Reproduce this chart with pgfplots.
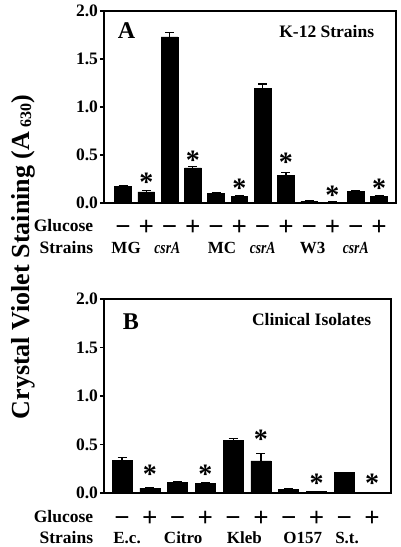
\documentclass[border=0pt]{standalone}
\usepackage{fontspec}
\setmainfont{Liberation Serif}
\usepackage{graphicx}
\usepackage{pgfplots}
\pgfplotsset{compat=1.18}
\usepackage{pgfplotstable}

\pgfplotstableread{
x y err
0 0.17 0.01
1 0.115 0.015
2 1.73 0.05
3 0.365 0.015
4 0.10 0.006
5 0.07 0.005
6 1.19 0.05
7 0.29 0.03
8 0.02 0.003
9 0.01 0.002
10 0.12 0.005
11 0.07 0.005
}\dataA

\pgfplotstableread{
x y
1 0.26
3 0.48
5 0.19
7 0.46
9 0.12
11 0.19
}\starA

\pgfplotstableread{
x y err
0 0.34 0.03
1 0.05 0.005
2 0.11 0.005
3 0.10 0.005
4 0.54 0.025
5 0.33 0.08
6 0.04 0.003
7 0.015 0.002
8 0.21 0.003
9 0.005 0.001
}\dataB

\pgfplotstableread{
x y
1 0.23
3 0.23
5 0.59
7 0.14
9 0.14
}\starB

\newcommand{\fs}[1]{\fontsize{#1}{#1}\selectfont\bfseries}
\newcommand{\csrA}{\scalebox{0.8}[1]{\itshape csrA}}

\pgfplotsset{
  panel/.style={
    scale only axis,
    anchor=south west,
    clip=false,
    ymin=0, ymax=2,
    ytick={0,0.5,1,1.5,2},
    yticklabels={0.0,0.5,1.0,1.5,2.0},
    ytick pos=left,
    tick align=outside,
    major tick length=4pt,
    tick style={line width=1.1pt, black},
    axis line style={line width=1.1pt},
    every axis/.append style={line width=1.1pt},
    yticklabel style={font=\fs{17.5}, inner sep=1.5pt},
    xtick=data,
    xtick style={draw=none},
    xticklabel style={font=\fs{27}, anchor=base, yshift=-29pt},
  },
  barstyle/.style={
    ybar, bar width=0.72, fill=black, draw=black, line width=0.6pt,
    error bars/.cd, y dir=plus, y explicit,
    error bar style={line width=1.2pt, black},
    error mark options={rotate=90, mark size=4.5pt, line width=1.2pt, black},
  },
  starstyle/.style={
    draw=none, mark=none,
    nodes near coords={*},
    nodes near coords style={anchor=base, yshift=-13pt, font=\fs{28}, inner sep=0pt},
  },
}

\begin{document}
\begin{tikzpicture}
\useasboundingbox (0pt,0pt) rectangle (400pt,547pt);

% Panel A
\begin{axis}[panel,
  at={(104pt,344pt)}, width=292pt, height=192pt,
  xmin=-0.82, xmax=11.73,
  xtick={0,...,11},
  xticklabels={−,+,−,+,−,+,−,+,−,+,−,+},
]
\addplot[barstyle] table[x=x, y=y, y error=err] {\dataA};
\addplot[starstyle] table[x=x, y=y] {\starA};
\node[anchor=base west, font=\fs{24}] at (rel axis cs:0,1) [xshift=10pt, yshift=-27.5pt] {A};
\node[anchor=base east, font=\fs{17.5}] at (rel axis cs:1,1) [xshift=-18pt, yshift=-26.5pt] {K-12 Strains};
\node[anchor=base east, font=\fs{17.5}] at (rel axis cs:0,0) [xshift=-7pt, yshift=-29pt] {Glucose};
\node[anchor=base east, font=\fs{17.5}] at (rel axis cs:0,0) [xshift=-7pt, yshift=-50.5pt] {Strains};
\node[anchor=base, font=\fs{17}] at (axis cs:0.13,0) [yshift=-50.5pt] {MG};
\node[anchor=base, font=\fs{17}] at (axis cs:1.9,0) [yshift=-50.5pt] {\csrA};
\node[anchor=base, font=\fs{17}] at (axis cs:4.25,0) [yshift=-50.5pt] {MC};
\node[anchor=base, font=\fs{17}] at (axis cs:6.0,0) [yshift=-50.5pt] {\csrA};
\node[anchor=base, font=\fs{17}] at (axis cs:8.15,0) [yshift=-50.5pt] {W3};
\node[anchor=base, font=\fs{17}] at (axis cs:10.0,0) [yshift=-50.5pt] {\csrA};
\end{axis}

% Panel B
\begin{axis}[panel,
  at={(104pt,54pt)}, width=287pt, height=194pt,
  xmin=-0.65, xmax=9.68,
  xtick={0,...,9},
  xticklabels={−,+,−,+,−,+,−,+,−,+},
]
\addplot[barstyle] table[x=x, y=y, y error=err] {\dataB};
\addplot[starstyle] table[x=x, y=y] {\starB};
\node[anchor=base west, font=\fs{24}] at (rel axis cs:0,1) [xshift=15pt, yshift=-30pt] {B};
\node[anchor=base east, font=\fs{17.5}] at (rel axis cs:1,1) [xshift=-16pt, yshift=-26.5pt] {Clinical Isolates};
\node[anchor=base east, font=\fs{17.5}] at (rel axis cs:0,0) [xshift=-7pt, yshift=-29pt] {Glucose};
\node[anchor=base east, font=\fs{17.5}] at (rel axis cs:0,0) [xshift=-7pt, yshift=-50.5pt] {Strains};
\node[anchor=base, font=\fs{17}] at (axis cs:0.18,0) [yshift=-50.5pt] {E.c.};
\node[anchor=base, font=\fs{17}] at (axis cs:2.2,0) [yshift=-50.5pt] {Citro};
\node[anchor=base, font=\fs{17}] at (axis cs:4.4,0) [yshift=-50.5pt] {Kleb};
\node[anchor=base, font=\fs{17}] at (axis cs:6.5,0) [yshift=-50.5pt] {O157};
\node[anchor=base, font=\fs{17}] at (axis cs:8.1,0) [yshift=-50.5pt] {S.t.};
\end{axis}

\node[rotate=90, font=\fs{26}, inner sep=0pt] at (23pt,290pt) {Crystal Violet Staining (A\,\raisebox{-2pt}{\fs{16}630})};
\end{tikzpicture}
\end{document}
